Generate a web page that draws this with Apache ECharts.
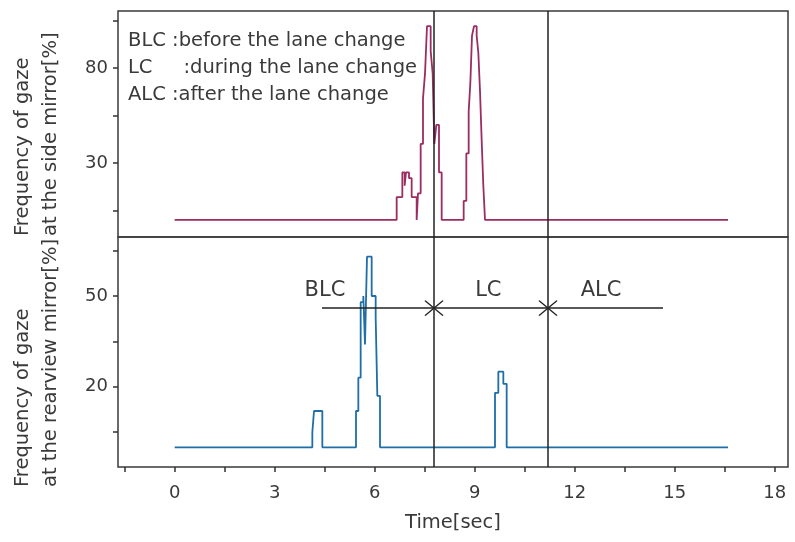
<!DOCTYPE html>
<html><head><meta charset="utf-8">
<script src="https://cdn.jsdelivr.net/npm/echarts@6/dist/echarts.min.js"></script>
<style>html,body{margin:0;padding:0;background:#fff}#c{width:795px;height:542px}</style>
</head><body><div id="c"></div>
<script>
// ---- data ----
const topTime = [0, 6.66, 6.83, 6.90, 6.94, 7.03, 7.11, 7.26, 7.30, 7.38, 7.45, 7.51, 7.57, 7.68, 7.74, 7.79, 7.85, 7.93, 8.01, 8.67, 8.75, 8.82, 8.87, 8.92, 8.98, 9.06, 9.11, 9.16, 9.21, 9.26, 9.31, 16.6];
const topVal  = [0, 12, 25, 18, 25, 22, 12, 0, 14, 40, 64, 77, 102, 89, 77, 40, 50, 25, 0, 10, 35, 57, 72, 97, 102, 97, 88, 68, 42, 18, 0, 0];
const botTime = [0, 4.13, 4.18, 4.43, 5.44, 5.51, 5.58, 5.66, 5.71, 5.77, 5.91, 6.03, 6.08, 6.16, 9.61, 9.71, 9.86, 9.96, 16.6];
const botVal  = [0, 5, 12, 0, 12, 23, 48, 50, 34, 63, 50, 43, 17, 0, 18, 25, 21, 0, 0];

const xTicks = [-1.5, 0, 1.5, 3, 4.5, 6, 7.5, 9, 10.5, 12, 13.5, 15, 16.5, 18];
const xLabels = [0, 3, 6, 9, 12, 15, 18];
const topYTicks = [5, 30, 55, 80, 105];
const topYLabels = [30, 80];
const botYTicks = [5, 20, 35, 50, 65];
const botYLabels = [20, 50];

const phaseBounds = [7.78, 11.2];     // lane change start / end
const phaseSpan = [4.42, 14.65];      // horizontal phase line
const phaseLevel = 46;
const phaseNames = ['BLC', 'LC', 'ALC'];
const phaseNameX = [4.51, 9.41, 12.79];
const phaseNameY = 51.7;

const legendLines = ['BLC :before the lane change', 'LC     :during the lane change', 'ALC :after the lane change'];
const topTitle = ['Frequency of gaze', 'at the side mirror[%]'];
const botTitle = ['Frequency of gaze', 'at the rearview mirror[%]'];

// ---- chart ----
const FONT = 'DejaVu Sans';
const TXT = '#3a3a3a';
const DARK = '#222';
const chart = echarts.init(document.getElementById('c'), null, {renderer: 'canvas'});

const yCommon = (min, max, ticks, labels, gi) => ({
  type: 'value', gridIndex: gi, min: min, max: max,
  axisLine: {show: false, onZero: false},
  splitLine: {show: false},
  axisTick: {show: true, length: 5, lineStyle: {color: '#333', width: 1.5}, customValues: ticks},
  axisLabel: {customValues: labels, fontFamily: FONT, fontSize: 18, color: TXT, margin: 10}
});

const vLines = phaseBounds.map(v => ({xAxis: v}));

const option = {
  animation: false,
  backgroundColor: '#fff',
  grid: [
    {left: 118, top: 11, width: 670, height: 226, show: true, borderColor: '#3a3a3a', borderWidth: 1.5, backgroundColor: 'transparent'},
    {left: 118, top: 237, width: 670, height: 230, show: true, borderColor: '#3a3a3a', borderWidth: 1.5, backgroundColor: 'transparent'}
  ],
  xAxis: [
    {type: 'value', gridIndex: 0, min: -1.7, max: 18.4, axisLine: {show: false, onZero: false}, axisTick: {show: false}, axisLabel: {show: false}, splitLine: {show: false}},
    {type: 'value', gridIndex: 1, min: -1.7, max: 18.4, axisLine: {show: false, onZero: false}, splitLine: {show: false},
     axisTick: {show: true, length: 5, lineStyle: {color: '#333', width: 1.5}, customValues: xTicks},
     axisLabel: {customValues: xLabels, fontFamily: FONT, fontSize: 18, color: TXT, margin: 17},
     name: 'Time[sec]', nameLocation: 'middle', nameGap: 46,
     nameTextStyle: {fontFamily: FONT, fontSize: 19.5, color: TXT}}
  ],
  yAxis: [
    yCommon(-9, 110, topYTicks, topYLabels, 0),
    yCommon(-6.5, 69.5, botYTicks, botYLabels, 1)
  ],
  graphic: [
    {type: 'text', left: 128, top: 27, silent: true,
     style: {text: legendLines.join('\n'), font: '19.5px "DejaVu Sans"', fill: TXT, lineHeight: 27}},
    {type: 'text', x: 37, y: 236, rotation: Math.PI / 2, silent: true,
     style: {text: topTitle.join('\n'), font: '19.5px "DejaVu Sans"', fill: TXT, lineHeight: 28, align: 'left', verticalAlign: 'middle'}},
    {type: 'text', x: 37, y: 487, rotation: Math.PI / 2, silent: true,
     style: {text: botTitle.join('\n'), font: '19.5px "DejaVu Sans"', fill: TXT, lineHeight: 28, align: 'left', verticalAlign: 'middle'}}
  ],
  series: [
    {
      type: 'line', xAxisIndex: 0, yAxisIndex: 0, step: 'end', showSymbol: false, z: 3,
      lineStyle: {color: '#9b2d63', width: 1.8}, itemStyle: {color: '#9b2d63'},
      data: topTime.map((t, i) => [t, topVal[i]]),
      markLine: {silent: true, symbol: 'none', label: {show: false}, animation: false,
        lineStyle: {color: DARK, width: 1.5, type: 'solid'}, data: vLines}
    },
    {
      type: 'line', xAxisIndex: 1, yAxisIndex: 1, step: 'end', showSymbol: false, z: 3,
      lineStyle: {color: '#1f6ea6', width: 1.8}, itemStyle: {color: '#1f6ea6'},
      data: botTime.map((t, i) => [t, botVal[i]]),
      markLine: {silent: true, symbol: 'none', label: {show: false}, animation: false,
        lineStyle: {color: DARK, width: 1.5, type: 'solid'},
        data: vLines.concat([[{coord: [phaseSpan[0], phaseLevel]}, {coord: [phaseSpan[1], phaseLevel]}]])},
      markPoint: {silent: true, animation: false,
        data: phaseBounds.map(v => ({
          coord: [v, phaseLevel], symbol: 'path://M0,0L10,10M10,0L0,10', symbolSize: [18, 15],
          itemStyle: {color: 'transparent', borderColor: DARK, borderWidth: 1.5}, label: {show: false}
        })).concat(phaseNames.map((n, i) => ({
          coord: [phaseNameX[i], phaseNameY], symbol: 'rect', symbolSize: 1,
          itemStyle: {color: 'transparent'},
          label: {show: true, position: 'inside', formatter: n, fontFamily: FONT, fontSize: 21, color: TXT}
        })))
      }
    }
  ]
};
chart.setOption(option);
</script>
</body></html>
